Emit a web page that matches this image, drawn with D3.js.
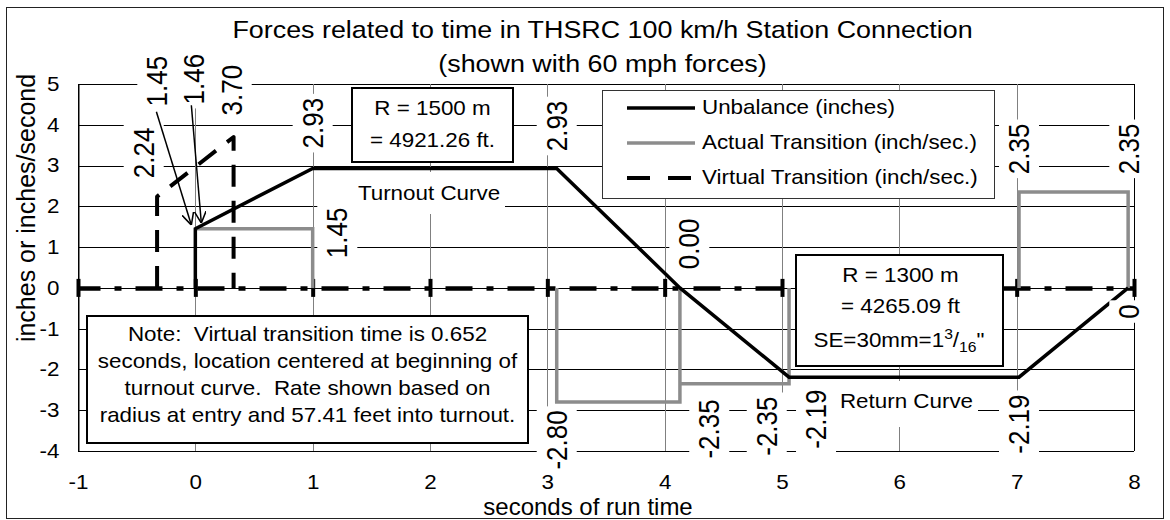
<!DOCTYPE html>
<html>
<head>
<meta charset="utf-8">
<script src="https://cdn.jsdelivr.net/npm/d3@7"></script>
<style>
  body { margin: 0; background: #fff; }
  text { font-family: "Liberation Sans", Arial, sans-serif; fill: #000; }
</style>
</head>
<body>
<script>
// svg size
var width = 1170;
var height = 520;
// the original text is drawn a bit wider than it is tall
var sx = 1.12;

// axis ticks
var xTicks = [-1, 0, 1, 2, 3, 4, 5, 6, 7, 8];
var yTicks = [-4, -3, -2, -1, 0, 1, 2, 3, 4, 5];

// unbalance (inches)
var unbalanceX = [0, 0, 1, 3.08, 4.13, 5.06, 7.02, 7.95];
var unbalanceY = [0, 1.45, 2.93, 2.93, 0.00, -2.19, -2.19, 0];

// actual transition (inch/sec.), null = break in the line
var actualX = [0, 1, 1, null, 3.08, 3.08, 4.13, 4.13, 4.13, 5.06, 5.06, null, 7.02, 7.02, 7.95, 7.95];
var actualY = [1.45, 1.45, 0, null, 0, -2.80, -2.80, 0, -2.35, -2.35, 0, null, 0, 2.35, 2.35, 0];

// virtual transition (inch/sec.)
var virtualX = [-0.326, -0.326, 0.326, 0.326];
var virtualY = [0, 2.24, 3.70, 0];

// data labels
var labelText = ["1.45", "1.46", "3.70", "2.24", "2.93", "2.93", "1.45", "0.00",
                 "-2.80", "-2.35", "-2.35", "-2.19", "-2.19", "0", "2.35", "2.35"];

// legend
var legendNames = ["Unbalance (inches)", "Actual Transition (inch/sec.)", "Virtual Transition (inch/sec.)"];

// notes
var boxLeft = ["R = 1500 m", "= 4921.26 ft."];
var noteLines = ["Note:  Virtual transition time is 0.652",
                 "seconds, location centered at beginning of",
                 "turnout curve.  Rate shown based on",
                 "radius at entry and 57.41 feet into turnout."];

// where the data labels sit (data units)
var labelPosX = [-0.324, -0.01, 0.31, -0.44, 1.0, 3.08, 1.21, 4.21,
                 3.08, 4.38, 4.87, 5.29, 7.02, 7.96, 7.02, 7.96];
var labelPosY = [5.07, 5.12, 4.85, 3.31, 4.04, 3.97, 1.35, 1.08,
                 -3.73, -3.46, -3.39, -3.22, -3.34, -0.58, 3.41, 3.41];

// arrows from the top labels to the start of the curve
var arrowFrom = [[-0.332, 4.32], [-0.034, 4.48]];
var arrowTo = [[-0.034, 1.54], [0.051, 1.59]];

var svg = d3.select("body")
  .append("svg")
  .attr("width", width)
  .attr("height", height);

// outer frame
svg.append("rect")
  .attr("x", 6.5).attr("y", 7.5)
  .attr("width", 1157).attr("height", 511)
  .attr("fill", "white")
  .attr("stroke", "#222");

var xScale = d3.scaleLinear().domain([-1, 8]).range([78, 1134]);
var yScale = d3.scaleLinear().domain([-4, 5]).range([451, 84]);

function crisp(v) { return Math.round(v) + 0.5; }

// plain hyphen for negatives, like the original
function tickFmt(d) { return String(d); }

// text that is stretched like the original
function addText(parent, str, x, y, size, anchor) {
  return parent.append("text")
    .attr("transform", "translate(" + [x, y] + ") scale(" + sx + ",1)")
    .attr("text-anchor", anchor || "middle")
    .style("font-size", size + "px")
    .style("white-space", "pre")
    .text(str);
}

// gridlines
svg.append("g").selectAll("line")
  .data(yTicks).enter().append("line")
  .attr("x1", xScale(-1)).attr("x2", xScale(8))
  .attr("y1", function(d) { return crisp(yScale(d)); })
  .attr("y2", function(d) { return crisp(yScale(d)); })
  .attr("stroke", "#000");

svg.append("g").selectAll("line")
  .data(xTicks).enter().append("line")
  .attr("x1", function(d) { return crisp(xScale(d)); })
  .attr("x2", function(d) { return crisp(xScale(d)); })
  .attr("y1", yScale(5)).attr("y2", yScale(-4))
  .attr("stroke", function(d) { return (d === -1 || d === 8) ? "#000" : "#808080"; });

// y axis with labels
var yAxis = svg.append("g")
  .attr("transform", "translate(" + crisp(xScale(-1)) + ",0)")
  .call(d3.axisLeft(yScale).tickValues(yTicks).tickFormat(tickFmt)
        .tickSize(0).tickSizeOuter(0));
yAxis.attr("font-family", null).attr("font-size", null);
yAxis.select(".domain").attr("stroke", "#000");
yAxis.selectAll("text")
  .attr("x", -19 / sx)
  .attr("transform", "scale(" + sx + ",1)")
  .style("font-size", "20px");

// x tick labels along the bottom
var xLabels = svg.append("g")
  .attr("transform", "translate(0," + yScale(-4) + ")")
  .call(d3.axisBottom(xScale).tickValues(xTicks).tickFormat(tickFmt).tickSize(0));
xLabels.attr("font-family", null).attr("font-size", null);
xLabels.select(".domain").remove();
xLabels.selectAll("text")
  .attr("y", 38).attr("dy", null)
  .attr("transform", "scale(" + sx + ",1)")
  .style("font-size", "20px");

// x axis crossing at zero, dash-dot with crossing ticks
var zeroAxis = svg.append("g")
  .attr("transform", "translate(0," + yScale(0) + ")")
  .call(d3.axisBottom(xScale).tickValues(xTicks).tickFormat("").tickSizeOuter(0));
zeroAxis.select(".domain")
  .attr("stroke", "#000")
  .attr("stroke-width", 4.5)
  .attr("stroke-dasharray", "27,14,7,14")
  .attr("stroke-dashoffset", 5);
zeroAxis.selectAll(".tick line")
  .attr("stroke", "#000")
  .attr("y1", -9).attr("y2", 9)
  .attr("stroke-width", 4);

// series
var line = d3.line()
  .defined(function(d) { return d[0] !== null; })
  .x(function(d) { return xScale(d[0]); })
  .y(function(d) { return yScale(d[1]); });

svg.append("path")
  .datum(d3.zip(actualX, actualY))
  .attr("d", line)
  .attr("fill", "none")
  .attr("stroke", "#8c8c8c")
  .attr("stroke-width", 3.5);

svg.append("path")
  .datum(d3.zip(unbalanceX, unbalanceY))
  .attr("d", line)
  .attr("fill", "none")
  .attr("stroke", "#000")
  .attr("stroke-width", 3.5);

svg.append("path")
  .datum(d3.zip(virtualX, virtualY))
  .attr("d", line)
  .attr("fill", "none")
  .attr("stroke", "#000")
  .attr("stroke-width", 4)
  .attr("stroke-linejoin", "round")
  .attr("stroke-dasharray", "22,14");

// rotated data labels on white
labelText.forEach(function(t, i) {
  var g = svg.append("g")
    .attr("transform", "translate(" + [xScale(labelPosX[i]), yScale(labelPosY[i])] +
          ") scale(" + sx + ",1) rotate(-90)");
  var rect = g.append("rect").attr("fill", "white");
  var txt = g.append("text")
    .attr("text-anchor", "middle")
    .attr("dominant-baseline", "central")
    .style("font-size", "26px")
    .text(t);
  var len = txt.node().getComputedTextLength();
  rect.attr("x", -len / 2 - 4).attr("y", -20 / sx)
    .attr("width", len + 8).attr("height", 40 / sx);
});

// arrows
svg.append("defs").append("marker")
  .attr("id", "arrow")
  .attr("viewBox", "0 0 10 10")
  .attr("refX", 10).attr("refY", 5)
  .attr("markerWidth", 12).attr("markerHeight", 12)
  .attr("markerUnits", "userSpaceOnUse")
  .attr("orient", "auto")
  .append("path")
  .attr("d", "M0,0L10,5L0,10")
  .attr("fill", "none")
  .attr("stroke", "#000")
  .attr("stroke-width", 1.3);

arrowFrom.forEach(function(p, i) {
  svg.append("line")
    .attr("x1", xScale(p[0])).attr("y1", yScale(p[1]))
    .attr("x2", xScale(arrowTo[i][0])).attr("y2", yScale(arrowTo[i][1]))
    .attr("stroke", "#000")
    .attr("stroke-width", 1.5)
    .attr("marker-end", "url(#arrow)");
});

// curve names
svg.append("rect").attr("x", 350).attr("y", 172).attr("width", 155).attr("height", 42).attr("fill", "white");
addText(svg, "Turnout Curve", 429, 200, 20);
svg.append("rect").attr("x", 836).attr("y", 381).attr("width", 142).attr("height", 46).attr("fill", "white");
addText(svg, "Return Curve", 906.5, 408, 20);

// R = 1500 m box
svg.append("rect")
  .attr("x", 352).attr("y", 88).attr("width", 161).attr("height", 74)
  .attr("fill", "white").attr("stroke", "#000").attr("stroke-width", 2);
boxLeft.forEach(function(t, i) {
  addText(svg, t, 432.5, 115 + i * 32, 20);
});

// legend
svg.append("rect")
  .attr("x", 602.5).attr("y", 90.5).attr("width", 392).attr("height", 108)
  .attr("fill", "white").attr("stroke", "#333");
var legendColor = ["#000", "#8c8c8c", "#000"];
var legendDash = [null, null, "23,18"];
legendNames.forEach(function(name, i) {
  var ly = 108 + i * 35;
  svg.append("line")
    .attr("x1", 627).attr("x2", 695)
    .attr("y1", ly).attr("y2", ly)
    .attr("stroke", legendColor[i])
    .attr("stroke-width", i === 2 ? 4 : 3.5)
    .attr("stroke-dasharray", legendDash[i]);
  addText(svg, name, 702, ly + 5.5, 20, "start");
});

// R = 1300 m box
svg.append("rect")
  .attr("x", 796).attr("y", 255).attr("width", 207).attr("height", 111)
  .attr("fill", "white").attr("stroke", "#000").attr("stroke-width", 2);
addText(svg, "R = 1300 m", 900.5, 282, 20);
addText(svg, "= 4265.09 ft", 900.5, 313, 20);
var se = addText(svg, "", 899, 347, 20);
se.append("tspan").text("SE=30mm=1");
se.append("tspan").attr("dy", -8).style("font-size", "14px").text("3");
se.append("tspan").attr("dy", 8).text("/");
se.append("tspan").attr("dy", 5).style("font-size", "14px").text("16");
se.append("tspan").attr("dy", -5).text("\"");

// note box
svg.append("rect")
  .attr("x", 87).attr("y", 316).attr("width", 441).attr("height", 127)
  .attr("fill", "white").attr("stroke", "#000").attr("stroke-width", 2);
noteLines.forEach(function(t, i) {
  addText(svg, t, 307.5, 341 + i * 27, 20);
});

// titles
addText(svg, "Forces related to time in THSRC 100 km/h Station Connection", 602.5, 37.5, 24);
addText(svg, "(shown with 60 mph forces)", 602.5, 72, 24);

// axis titles
svg.append("text")
  .attr("transform", "translate(35,208) rotate(-90)")
  .attr("text-anchor", "middle")
  .style("font-size", "25px")
  .text("inches or inches/second");

svg.append("text")
  .attr("x", 588).attr("y", 515)
  .attr("text-anchor", "middle")
  .style("font-size", "24px")
  .text("seconds of run time");
</script>
</body>
</html>
